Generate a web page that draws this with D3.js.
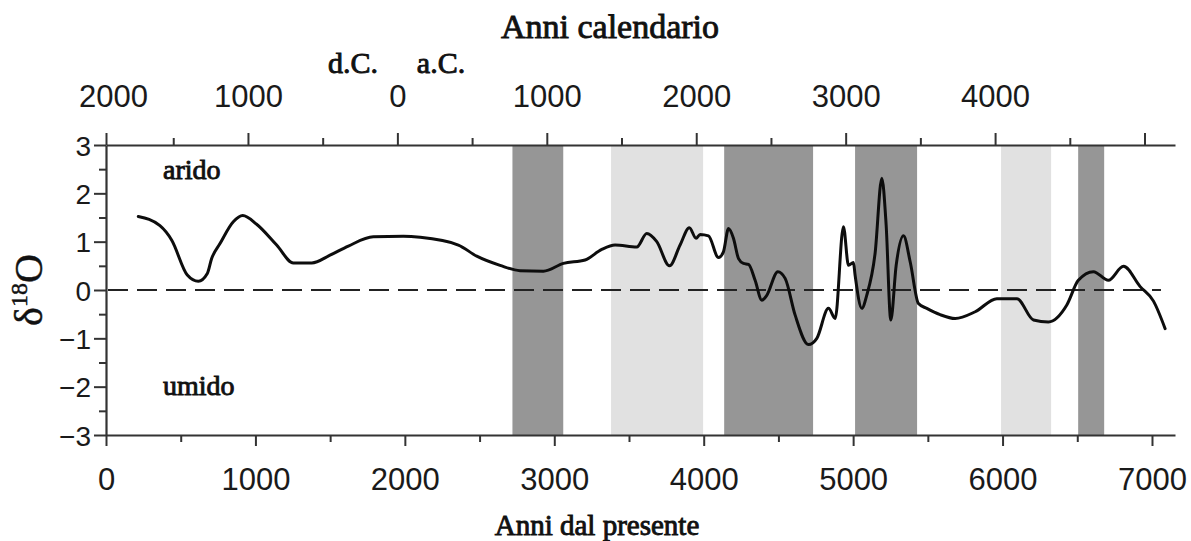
<!DOCTYPE html>
<html>
<head>
<meta charset="utf-8">
<script src="https://cdn.jsdelivr.net/npm/d3@7/dist/d3.min.js"></script>
<style>
  html, body { margin: 0; padding: 0; background: #fff; }
  svg { display: block; }
  .num { font-family: "Liberation Sans", Arial, sans-serif; fill: #1a1a1a; }
  .ser { font-family: "Liberation Serif", "Times New Roman", serif; fill: #111; }
</style>
</head>
<body>
<svg id="chart" width="1191" height="541"></svg>
<script>
// Oxygen-isotope record (years before present, δ18O)
const yearsBP = [216, 361, 440, 544, 618, 678, 707, 763, 852, 915, 1008, 1142, 1254, 1377, 1499, 1622, 1789, 1990, 2102, 2358,
  2481, 2637, 2771, 2927, 3061, 3206, 3318, 3407, 3552, 3619, 3686, 3771, 3842, 3904, 3949, 3976, 4032, 4099, 4132, 4166,
  4199, 4233, 4266, 4300, 4344, 4389, 4422, 4496, 4545, 4612, 4701, 4757, 4835, 4880, 4935, 4969, 5002, 5013, 5058, 5091,
  5147, 5192, 5221, 5252, 5288, 5337, 5382, 5437, 5493, 5582, 5683, 5817, 5962, 6096, 6207, 6307, 6430, 6507, 6608, 6708,
  6809, 6921, 7010, 7088];
const d18O = [1.52, 1.33, 1.03, 0.31, 0.18, 0.34, 0.65, 0.96, 1.41, 1.54, 1.36, 0.93, 0.56, 0.56, 0.72, 0.91, 1.10, 1.11, 1.09, 0.93,
  0.70, 0.51, 0.40, 0.39, 0.55, 0.62, 0.84, 0.93, 0.89, 1.17, 1.00, 0.50, 0.93, 1.29, 1.07, 1.15, 1.12, 0.67, 0.79, 1.27,
  1.07, 0.65, 0.55, 0.53, 0.20, -0.21, -0.11, 0.38, 0.24, -0.52, -1.13, -1.00, -0.38, -0.59, 1.31, 0.51, 0.57, 0.31, -0.38, -0.11,
  0.76, 2.31, 1.34, -0.62, 0.51, 1.12, 0.58, -0.28, -0.38, -0.51, -0.59, -0.45, -0.18, -0.18, -0.62, -0.66, -0.31, 0.20, 0.38, 0.20,
  0.49, 0.07, -0.23, -0.80];

// Shaded intervals (years BP): start, end, tone
const bandStart = [2720, 3380, 4137, 5013, 5990, 6506];
const bandEnd   = [3060, 3996, 4732, 5428, 6325, 6680];
const bandTone  = ["dark", "light", "dark", "dark", "light", "dark"];

// Axis ticks
const bpTicks = [0, 1000, 2000, 3000, 4000, 5000, 6000, 7000];
const bpMinor = [500, 1500, 2500, 3500, 4500, 5500, 6500];
const calTicks = [2000, 1000, 0, -1000, -2000, -3000, -4000, -5000];   // positive = d.C., negative = a.C.
const calLabelled = [2000, 1000, 0, -1000, -2000, -3000, -4000];
const calMinor = [1500, 500, -500, -1500, -2500, -3500, -4500];
const yTicks = [-3, -2, -1, 0, 1, 2, 3];
const yMinor = [-2.5, -1.5, -0.5, 0.5, 1.5, 2.5];

const svg = d3.select("#chart");
const L = 106, R = 1175, T = 145, B = 435;
const maxBP = 7154;

const x = d3.scaleLinear().domain([0, maxBP]).range([L, R]);
const y = d3.scaleLinear().domain([-3, 3]).range([B, T]);
// calendar scale: year AD (negative BC) -> BP = 1950 - year
const xc = d3.scaleLinear().domain([1950, 1950 - maxBP]).range([L, R]).clamp(true);

const tone = { dark: "#969696", light: "#e1e1e1" };
svg.append("g").selectAll("rect")
  .data(bandStart.map((s, i) => ({ s, e: bandEnd[i], t: bandTone[i] })))
  .join("rect")
  .attr("x", d => x(d.s))
  .attr("width", d => x(d.e) - x(d.s))
  .attr("y", T)
  .attr("height", B - T)
  .attr("fill", d => tone[d.t]);

// zero reference line
svg.append("line")
  .attr("x1", L + 2).attr("x2", x(7060))
  .attr("y1", y(0)).attr("y2", y(0))
  .attr("stroke", "#222").attr("stroke-width", 2.2)
  .attr("stroke-dasharray", "20,9");

// record
const pts = yearsBP.map((t, i) => [t, d18O[i]]);
svg.append("path")
  .datum(pts)
  .attr("fill", "none")
  .attr("stroke", "#0d0d0d")
  .attr("stroke-width", 3)
  .attr("stroke-linejoin", "round")
  .attr("stroke-linecap", "round")
  .attr("d", d3.line().x(d => x(d[0])).y(d => y(d[1])).curve(d3.curveMonotoneX));

function styleAxis(g) {
  g.select(".domain").attr("stroke", "#333").attr("stroke-width", 2.2);
  g.selectAll(".tick line").attr("stroke", "#333").attr("stroke-width", 2);
  g.selectAll("text").attr("class", "num").attr("fill", "#1a1a1a");
}

// bottom axis (years before present)
const gB = svg.append("g").attr("transform", `translate(0,${B})`)
  .call(d3.axisBottom(x).tickValues(bpTicks).tickSize(11).tickSizeOuter(0).tickFormat(d3.format("d")));
styleAxis(gB);
gB.selectAll("text").attr("y", 55).attr("dy", 0).attr("font-size", 31).attr("font-family", "Liberation Sans, sans-serif");
svg.append("g").attr("transform", `translate(0,${B})`)
  .call(d3.axisBottom(x).tickValues(bpMinor).tickSize(7).tickFormat(""))
  .call(g => { g.select(".domain").remove(); g.selectAll(".tick line").attr("stroke", "#333").attr("stroke-width", 2); });

// top axis (calendar years)
const gT = svg.append("g").attr("transform", `translate(0,${T})`)
  .call(d3.axisTop(xc).tickValues(calTicks).tickSize(12).tickSizeOuter(0)
    .tickFormat(d => calLabelled.includes(d) ? String(Math.abs(d)) : ""));
styleAxis(gT);
gT.selectAll("text").attr("y", -38).attr("dy", 0).attr("font-size", 31).attr("font-family", "Liberation Sans, sans-serif");
gT.selectAll(".tick").filter(d => d === 2000).select("text").attr("dx", 7);
svg.append("g").attr("transform", `translate(0,${T})`)
  .call(d3.axisTop(xc).tickValues(calMinor).tickSize(7).tickFormat(""))
  .call(g => { g.select(".domain").remove(); g.selectAll(".tick line").attr("stroke", "#333").attr("stroke-width", 2); });

// left axis (δ18O)
const gL = svg.append("g").attr("transform", `translate(${L},0)`)
  .call(d3.axisLeft(y).tickValues(yTicks).tickSize(12).tickPadding(3).tickSizeOuter(0)
    .tickFormat(d => d < 0 ? "\u2212" + Math.abs(d) : String(d)));
styleAxis(gL);
gL.selectAll("text").attr("font-size", 28).attr("font-family", "Liberation Sans, sans-serif").attr("dy", "0.36em");
svg.append("g").attr("transform", `translate(${L},0)`)
  .call(d3.axisLeft(y).tickValues(yMinor).tickSize(7).tickFormat(""))
  .call(g => { g.select(".domain").remove(); g.selectAll(".tick line").attr("stroke", "#333").attr("stroke-width", 2); });

// titles and annotations
const serif = (txt, px, py, size, anchor) => svg.append("text")
  .attr("class", "ser").attr("x", px).attr("y", py)
  .attr("font-size", size).attr("text-anchor", anchor || "middle")
  .attr("stroke", "#111").attr("stroke-width", 0.9)
  .text(txt);

serif("Anni calendario", 610, 38, 34);
serif("d.C.", 353, 73, 30);
serif("a.C.", 441, 73, 30);
serif("Anni dal presente", 597, 535, 29);
serif("arido", 163, 179, 28, "start");
serif("umido", 163, 395, 28, "start");

const yl = svg.append("text")
  .attr("class", "ser")
  .attr("transform", `translate(42,${y(0)}) rotate(-90)`)
  .attr("text-anchor", "middle")
  .attr("font-size", 40)
  .attr("stroke", "#111").attr("stroke-width", 0.5);
yl.append("tspan").text("\u03b4");
yl.append("tspan").attr("font-size", 24).attr("dy", -15).text("18");
yl.append("tspan").attr("dy", 15).text("O");
</script>
</body>
</html>
